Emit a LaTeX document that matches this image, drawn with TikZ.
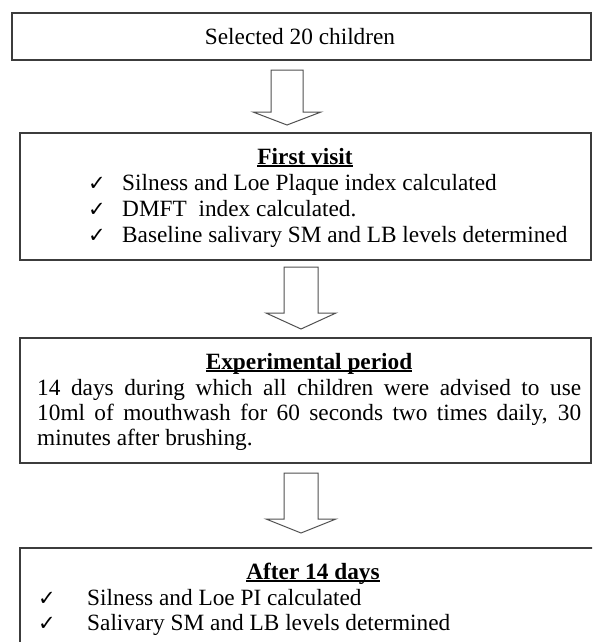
\documentclass[tikz,border=0pt]{standalone}
\usepackage{fontspec}
\setmainfont{Liberation Serif}
\newfontfamily\symfont{DejaVu Sans}
\usetikzlibrary{calc}
\definecolor{boxgray}{HTML}{3C3C3C}
\definecolor{arrowgray}{HTML}{505050}
\newcommand\hdul[1]{\setbox0\hbox{\bfseries #1}\rlap{\rule[-3pt]{\wd0}{1.6pt}}\box0}
\newcommand\chk{{\symfont\fontsize{21}{21}\selectfont ✓}}
\begin{document}
\begin{tikzpicture}[x=1pt,y=-1pt,
  box/.style={draw=boxgray, line width=1.5pt, inner sep=0pt, fill=white},
  txt/.style={inner sep=0pt, font=\fontsize{23.3}{25.5}\selectfont, anchor=base west},
  blockarrow/.style={draw=arrowgray, line width=1pt, fill=white, line join=miter}]
\clip (0,0) rectangle (592,642);
\fill[white] (0,0) rectangle (592,642);
% boxes
\node[box, minimum width=579pt, minimum height=47pt] (b1) at (301.5,36.5) {};
\node[box, minimum width=571pt, minimum height=127pt] (b2) at (305.5,196.5) {};
\node[box, minimum width=571pt, minimum height=125pt] (b3) at (305.5,400.5) {};
\node[box, minimum width=580pt, minimum height=120pt] (b4) at (310,608) {};
% box 1
\node[txt, anchor=base] (t1) at (300,45) {Selected 20 children};
% box 2
\node[txt, anchor=base] (h2) at (305,164) {\hdul{First visit}};
\node[txt] (c21) at (88,190) {\chk};
\node[txt] (l21) at (122,190) {Silness and Loe Plaque index calculated};
\node[txt] (c22) at (88,216) {\chk};
\node[txt] (l22) at (122,216) {DMFT\ \ index calculated.};
\node[txt] (c23) at (88,242) {\chk};
\node[txt] (l23) at (122,242) {Baseline salivary SM and LB levels determined};
% box 3
\node[txt, anchor=base] (h3) at (309,369) {\hdul{Experimental period}};
\node[txt] (l31) at (37,395) {\makebox[544pt][s]{14 days during which all children were advised to use}};
\node[txt] (l32) at (37,420) {\makebox[544pt][s]{10ml of mouthwash for 60 seconds two times daily, 30}};
\node[txt] (l33) at (37,445) {minutes after brushing.};
% box 4
\node[txt, anchor=base] (h4) at (313,579) {\hdul{After 14 days}};
\node[txt] (c41) at (38,605) {\chk};
\node[txt] (l41) at (87,605) {Silness and Loe PI calculated};
\node[txt] (c42) at (38,630) {\chk};
\node[txt] (l42) at (87,630) {Salivary SM and LB levels determined};
% block arrows
\coordinate (a1) at (287,70);
\coordinate (a2) at (301,267);
\coordinate (a3) at (301,473);
\draw[blockarrow, shift={(a1)}] (-16,0) -- (16,0) -- (16,42) -- (34,42) -- (0,55) -- (-34,42) -- (-16,42) -- cycle;
\draw[blockarrow, shift={(a2)}] (-17,0) -- (17,0) -- (17,46) -- (35,46) -- (0,62) -- (-35,46) -- (-17,46) -- cycle;
\draw[blockarrow, shift={(a3)}] (-17,0) -- (17,0) -- (17,46) -- (35,46) -- (0,60) -- (-35,46) -- (-17,46) -- cycle;
\end{tikzpicture}
\end{document}
